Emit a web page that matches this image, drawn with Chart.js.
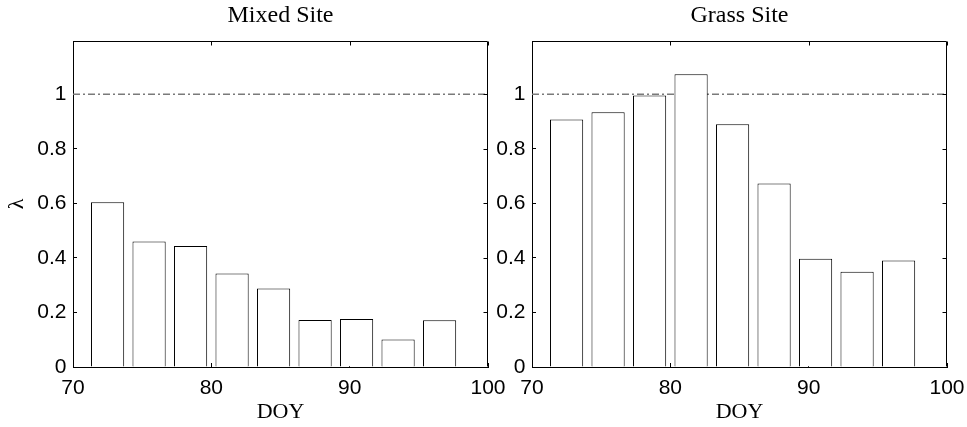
<!DOCTYPE html>
<html>
<head>
<meta charset="utf-8">
<script src="https://cdn.jsdelivr.net/npm/chart.js@4.4.1/dist/chart.umd.min.js"></script>
<style>
  html, body { margin: 0; padding: 0; background: #fff; }
  #wrap { position: relative; width: 967px; height: 427px; overflow: hidden; background: #fff; }
  canvas { position: absolute; top: 0; }
  #mixed { left: 0; }
  #grass { left: 483px; }
</style>
</head>
<body>
<div id="wrap">
  <canvas id="mixed" width="510" height="427"></canvas>
  <canvas id="grass" width="484" height="427"></canvas>
</div>
<script>
// Day of year at the centre of each 3-day bin
const doy = [72.5, 75.5, 78.5, 81.5, 84.5, 87.5, 90.5, 93.5, 96.5];

// Lambda per bin at each site
const mixedLambda = [0.604, 0.460, 0.444, 0.343, 0.288, 0.172, 0.176, 0.101, 0.171];
const grassLambda = [0.907, 0.934, 0.995, 1.073, 0.890, 0.673, 0.397, 0.349, 0.390];

// Axis ticks and ranges
const xTicks = [70, 80, 90, 100];
const yTicks = [0, 0.2, 0.4, 0.6, 0.8, 1];
const xRange = [70, 100];
const yRange = [0, 1.195];

// Reference level drawn as a dash-dot line
const refLevel = 1;

const TICK_LEN = 4;
const SANS = 'Liberation Sans, Arial, sans-serif';
const SERIF = 'Liberation Serif, Times New Roman, serif';

// Closes the box on the top and right sides with inward tick marks
const framePlugin = {
  id: 'frame',
  afterDatasetsDraw(chart) {
    const { ctx, chartArea: a, scales: { x, y } } = chart;
    const L = Math.round(a.left) + 0.5, R = Math.round(a.right) - 0.5;
    const T = Math.round(a.top) + 0.5, B = Math.round(a.bottom) - 0.5;
    ctx.save();
    ctx.strokeStyle = '#000';
    ctx.lineWidth = 1;
    ctx.beginPath();
    ctx.moveTo(L, T); ctx.lineTo(R, T); ctx.lineTo(R, B);
    x.ticks.forEach(t => {
      const px = Math.round(x.getPixelForValue(t.value)) + 0.5;
      ctx.moveTo(px, T); ctx.lineTo(px, T + TICK_LEN);
    });
    y.ticks.forEach(t => {
      const py = Math.round(y.getPixelForValue(t.value)) + 0.5;
      ctx.moveTo(R, py); ctx.lineTo(R - TICK_LEN, py);
    });
    ctx.stroke();
    ctx.restore();
  }
};

function makeChart(id, title, values, yAxisWidth, padRight, showYTitle) {
  const axisGrid = {
    display: true, drawOnChartArea: false, drawTicks: true,
    tickLength: -TICK_LEN, tickColor: '#000', tickWidth: 1, offset: false
  };
  return new Chart(document.getElementById(id), {
    data: {
      datasets: [
        {
          type: 'bar',
          data: doy.map((d, i) => ({ x: d, y: values[i] })),
          backgroundColor: '#ffffff',
          borderColor: '#000000',
          borderWidth: 1,
          borderSkipped: 'start',
          barPercentage: 0.8,
          categoryPercentage: 1,
          order: 1
        },
        {
          type: 'line',
          data: xRange.map(v => ({ x: v, y: refLevel })),
          borderColor: '#7a7a7a',
          borderWidth: 1.5,
          borderDash: [7, 3, 2, 3],
          pointRadius: 0,
          fill: false,
          order: 2
        }
      ]
    },
    options: {
      responsive: false,
      animation: false,
      devicePixelRatio: 1,
      events: [],
      layout: { padding: { left: 0, right: padRight, top: 0, bottom: 0 } },
      plugins: {
        legend: { display: false },
        tooltip: { enabled: false },
        title: {
          display: true,
          text: title,
          fullSize: false,
          color: '#000',
          font: { family: SERIF, size: 24, weight: 'normal' },
          padding: { top: 1, bottom: 11.2 }
        }
      },
      scales: {
        x: {
          type: 'linear',
          min: xRange[0], max: xRange[1],
          offset: false,
          afterBuildTicks: s => { s.ticks = xTicks.map(v => ({ value: v })); },
          afterFit: s => { s.height = 60; s.paddingLeft = 0; s.paddingRight = 0; },
          grid: axisGrid,
          border: { display: true, color: '#000', width: 1 },
          ticks: {
            color: '#000', autoSkip: false, maxRotation: 0,
            font: { family: SANS, size: 21 }, padding: 12.5,
            callback: v => String(v)
          },
          title: {
            display: true, text: 'DOY', color: '#000',
            font: { family: SERIF, size: 22 },
            padding: { top: 0, bottom: 2 }
          }
        },
        y: {
          type: 'linear',
          min: yRange[0], max: yRange[1],
          afterBuildTicks: s => { s.ticks = yTicks.map(v => ({ value: v })); },
          afterFit: s => { s.width = yAxisWidth; s.paddingTop = 0; s.paddingBottom = 0; },
          grid: axisGrid,
          border: { display: true, color: '#000', width: 1 },
          ticks: {
            color: '#000', font: { family: SANS, size: 21 }, padding: 10.5,
            callback: v => String(v)
          },
          title: {
            display: showYTitle, text: 'λ', color: '#000',
            font: { family: SERIF, size: 22 },
            padding: { top: 4, bottom: 0 }
          }
        }
      }
    },
    plugins: [framePlugin]
  });
}

makeChart('mixed', 'Mixed Site', mixedLambda, 73, 22, true);
makeChart('grass', 'Grass Site', grassLambda, 49, 20, false);
</script>
</body>
</html>
